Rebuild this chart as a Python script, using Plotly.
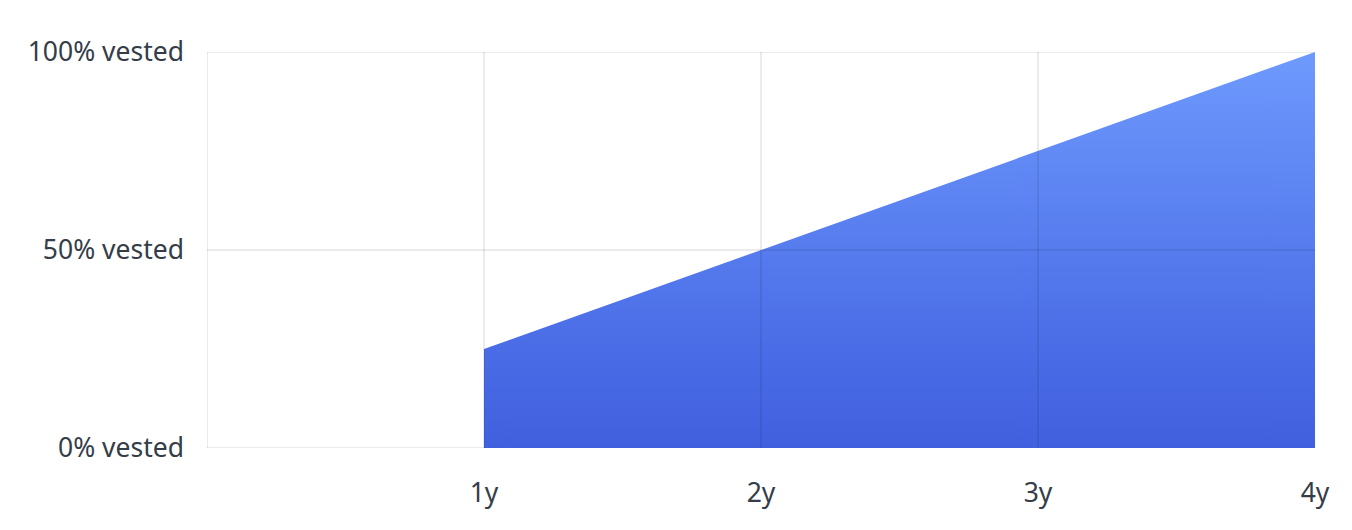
import plotly.graph_objects as go

years = [1, 1, 4, 4]
vested = [0, 25, 100, 0]
x_ticks = [1, 2, 3, 4]
x_labels = ["1y", "2y", "3y", "4y"]
y_ticks = [0, 50, 100]
y_labels = ["0% vested", "50% vested", "100% vested"]

fig = go.Figure()
fig.add_trace(go.Scatter(
    x=years, y=vested, mode="lines", fill="toself",
    line=dict(width=0),
    fillgradient=dict(type="vertical",
                      colorscale=[[0, "#4160df"], [0.25, "#4a6ce6"], [1, "#6e9afd"]],
                      start=0, stop=100),
    hoverinfo="skip", showlegend=False,
))

grid_col = "rgba(0,0,0,0.16)"
shapes = []
for xv in [0] + x_ticks[:-1]:
    shapes.append(dict(type="line", xref="x", yref="y", x0=xv, x1=xv, y0=0, y1=100,
                       line=dict(color=grid_col, width=1), layer="above"))
for yv in y_ticks:
    shapes.append(dict(type="line", xref="x", yref="y", x0=0, x1=4, y0=yv, y1=yv,
                       line=dict(color=grid_col, width=1), layer="above" if yv == 50 else "below"))

fig.update_layout(
    width=1352, height=530,
    margin=dict(l=199, r=45, t=44, b=90),
    paper_bgcolor="white", plot_bgcolor="white",
    font=dict(family="Noto Sans", size=26.5, color="#343d48"),
    shapes=shapes,
    xaxis=dict(range=[0, 4], tickvals=x_ticks, ticktext=x_labels, showgrid=False,
               zeroline=False, showline=False, ticks="", ticklabelstandoff=26),
    yaxis=dict(range=[0, 100], tickvals=y_ticks, ticktext=y_labels, showgrid=False,
               zeroline=False, showline=False, ticks="", ticklabelstandoff=22),
)
fig.write_html("out.html")
